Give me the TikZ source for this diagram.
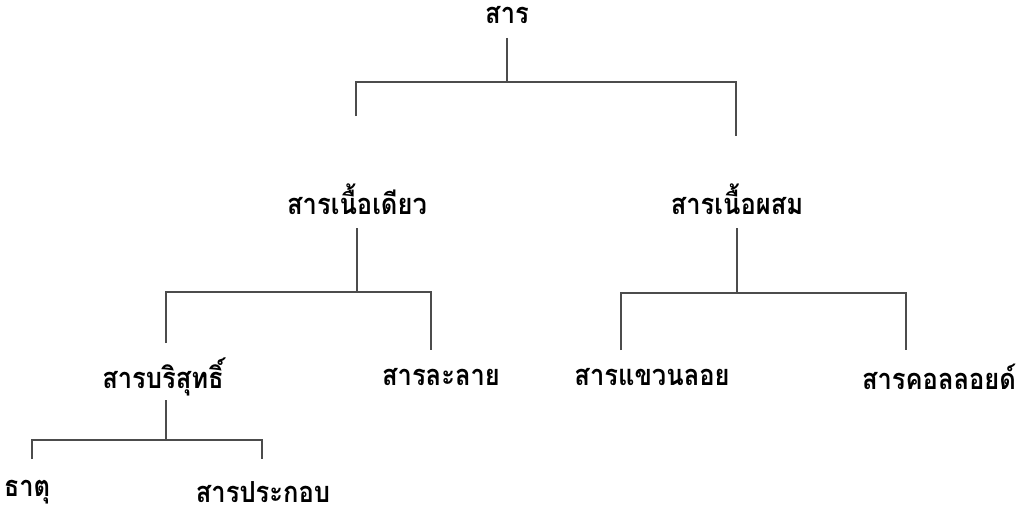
\documentclass[tikz,border=0pt]{standalone}
\usepackage{fontspec}
\usepackage{graphicx}
\newfontfamily\thaifont[Script=Thai]{Loma}
\newcommand{\thx}[1]{\scalebox{0.88}[1]{#1}}
\begin{document}
\begin{tikzpicture}[x=1pt,y=-1pt,
  lbl/.style={font=\thaifont\bfseries\fontsize{29}{33}\selectfont, inner sep=0pt, anchor=center},
  ln/.style={line width=2.5pt, draw=black!70}]
\useasboundingbox (0,0) rectangle (1033,519);
% nodes
\node[lbl] (sarn) at (507,15) {\thx{สาร}};
\node[lbl] (hom) at (357,199) {\thx{สารเนื้อเดียว}};
\node[lbl] (het) at (737,199) {\thx{สารเนื้อผสม}};
\node[lbl] (pure) at (163,377) {\thx{สารบริสุทธิ์}};
\node[lbl] (sol) at (441,377) {\thx{สารละลาย}};
\node[lbl] (susp) at (652,377) {\thx{สารแขวนลอย}};
\node[lbl] (coll) at (939,377) {\thx{สารคอลลอยด์}};
\node[lbl] (elem) at (27,492) {\thx{ธาตุ}};
\node[lbl] (comp) at (263,492) {\thx{สารประกอบ}};
% junction coordinates
\coordinate (j0) at (507,82);
\coordinate (j1) at (357,292);
\coordinate (j2) at (737,293);
\coordinate (j3) at (166,440);
% connectors
\draw[ln] (507,38) -- (j0);
\draw[ln] (356,116) -- (356,82) -- (736,82) -- (736,136);
\draw[ln] (357,228) -- (j1);
\draw[ln] (166,343) -- (166,292) -- (431,292) -- (431,350);
\draw[ln] (737,228) -- (j2);
\draw[ln] (621,350) -- (621,293) -- (906,293) -- (906,350);
\draw[ln] (166,400) -- (j3);
\draw[ln] (32,459) -- (32,440) -- (262,440) -- (262,459);
\end{tikzpicture}
\end{document}
